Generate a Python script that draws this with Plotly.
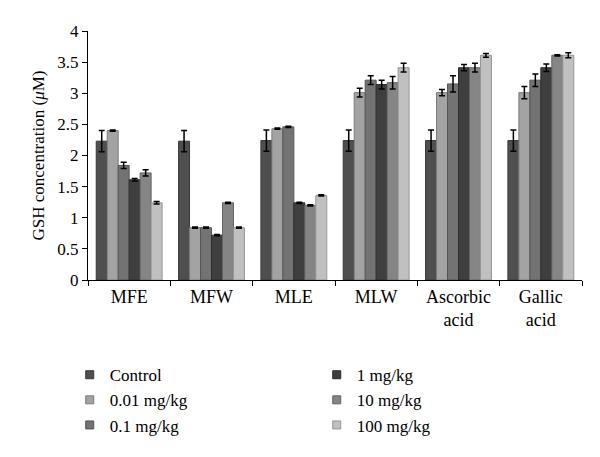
import plotly.graph_objects as go

categories = ["MFE", "MFW", "MLE", "MLW", "Ascorbic<br>acid", "Gallic<br>acid"]
series_names = ["Control", "0.01 mg/kg", "0.1 mg/kg", "1 mg/kg", "10 mg/kg", "100 mg/kg"]

control = [2.23, 2.23, 2.24, 2.24, 2.24, 2.24]
dose_001 = [2.40, 0.84, 2.43, 3.01, 3.01, 3.01]
dose_01 = [1.84, 0.84, 2.46, 3.21, 3.15, 3.21]
dose_1 = [1.61, 0.72, 1.24, 3.14, 3.41, 3.41]
dose_10 = [1.72, 1.24, 1.20, 3.17, 3.41, 3.61]
dose_100 = [1.24, 0.84, 1.36, 3.41, 3.61, 3.61]

err_control = [0.17, 0.17, 0.17, 0.17, 0.17, 0.17]
err_001 = [0.01, 0.01, 0.01, 0.07, 0.05, 0.10]
err_01 = [0.05, 0.01, 0.01, 0.07, 0.13, 0.10]
err_1 = [0.02, 0.01, 0.01, 0.07, 0.05, 0.06]
err_10 = [0.05, 0.01, 0.01, 0.10, 0.07, 0.01]
err_100 = [0.02, 0.01, 0.01, 0.07, 0.03, 0.04]

values = [control, dose_001, dose_01, dose_1, dose_10, dose_100]
errors = [err_control, err_001, err_01, err_1, err_10, err_100]
colors = ["#4f4f4f", "#a3a3a3", "#737373", "#3f3f3f", "#858585", "#c0c0c0"]
edges = ["#383838", "#7a7a7a", "#555555", "#2c2c2c", "#636363", "#959595"]
legend_ids = ["legend", "legend", "legend", "legend2", "legend2", "legend2"]

FONT = "'Liberation Serif', 'DejaVu Serif', serif"

fig = go.Figure()
for name, v, e, c, ec in zip(series_names, values, errors, colors, edges):
    fig.add_trace(go.Bar(
        x=categories, y=v, name=name, showlegend=False,
        marker=dict(color=c, line=dict(color=ec, width=1)),
        error_y=dict(type="data", array=e, visible=True, color="black", thickness=1.5, width=3),
    ))
# legend entries with small square markers
for name, c, ec, lg in zip(series_names, colors, edges, legend_ids):
    fig.add_trace(go.Scatter(
        x=[None], y=[None], mode="markers", name=name, legend=lg,
        marker=dict(symbol="square", size=8, color=c, line=dict(color=ec, width=1)),
    ))

fig.update_layout(
    width=600, height=457,
    paper_bgcolor="white", plot_bgcolor="white",
    margin=dict(l=80, r=26, t=23, b=185),
    barmode="group", bargap=0.2, bargroupgap=0,
    font=dict(family=FONT, size=17, color="black"),
    yaxis=dict(
        range=[0, 4], dtick=0.5, tickformat="~g",
        showline=True, linecolor="black", linewidth=1,
        ticks="outside", ticklen=5, tickcolor="black",
        showgrid=False, zeroline=False,
        title=dict(text="GSH concentration (<i>μ</i>M)", font=dict(family=FONT, size=17), standoff=8),
        tickfont=dict(family=FONT, size=17),
    ),
    xaxis=dict(
        showline=True, linecolor="black", linewidth=1,
        ticks="outside", ticklen=5, tickcolor="black", tickson="boundaries",
        showgrid=False, tickfont=dict(family=FONT, size=18),
    ),
    legend=dict(
        x=-0.037, xanchor="left", y=-0.31, yanchor="top",
        orientation="v", font=dict(family=FONT, size=17), bgcolor="rgba(0,0,0,0)",
        itemwidth=30, tracegroupgap=0,
    ),
    legend2=dict(
        x=0.463, xanchor="left", y=-0.31, yanchor="top",
        orientation="v", font=dict(family=FONT, size=17), bgcolor="rgba(0,0,0,0)",
        itemwidth=30, tracegroupgap=0,
    ),
)

fig.write_html("out.html")
